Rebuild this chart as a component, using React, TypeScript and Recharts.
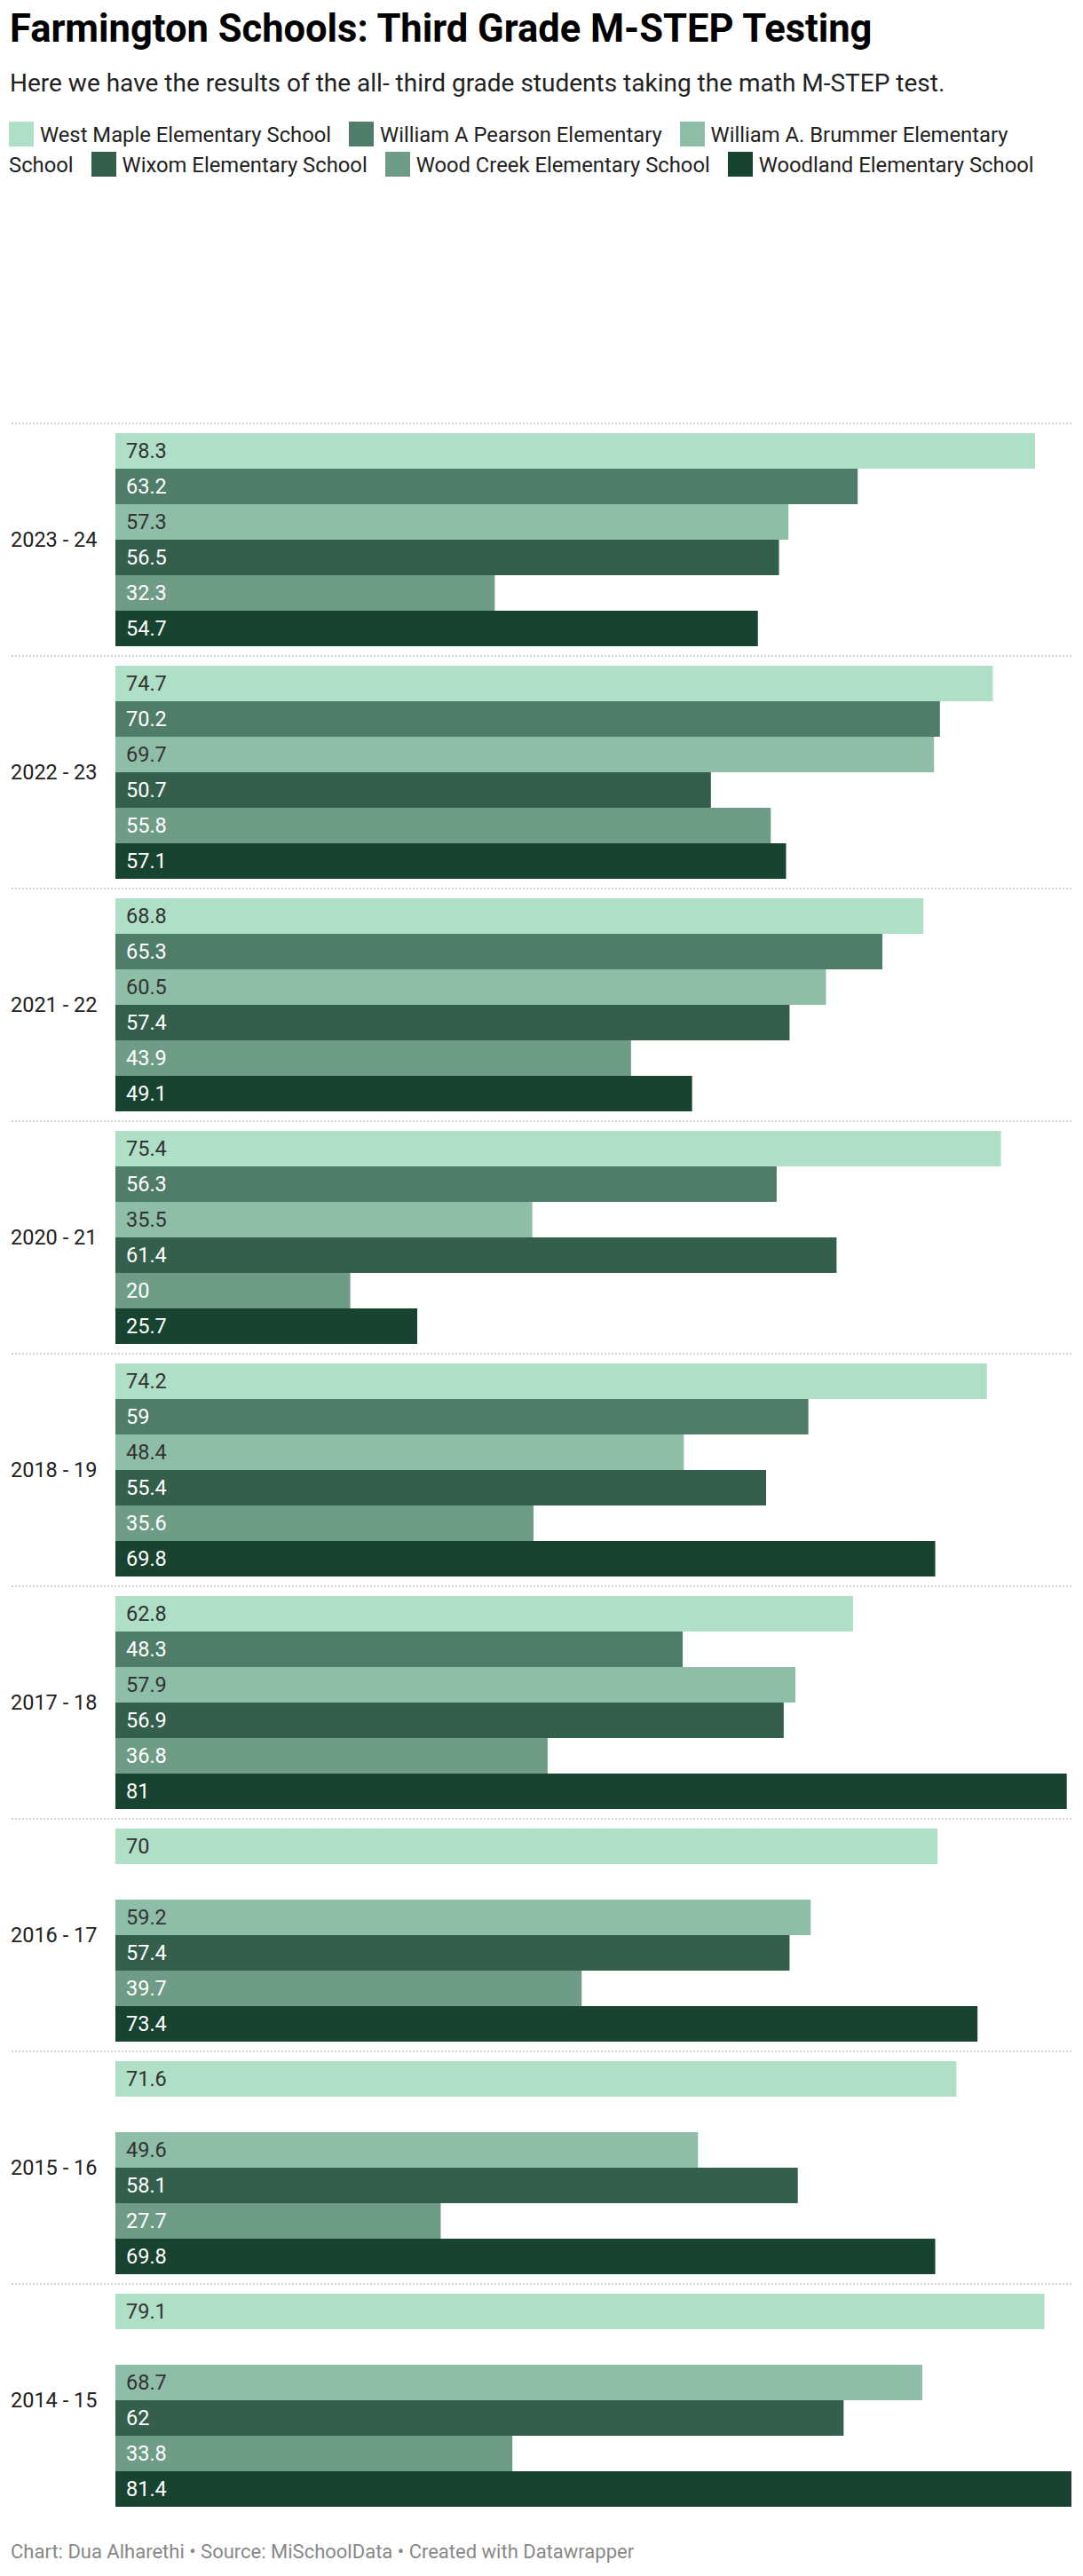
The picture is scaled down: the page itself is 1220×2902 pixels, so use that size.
import { Bar, BarChart, LabelList, XAxis, YAxis } from "recharts";

const FONT = "Roboto, 'Noto Sans', sans-serif";

const years = [
  "2023 - 24",
  "2022 - 23",
  "2021 - 22",
  "2020 - 21",
  "2018 - 19",
  "2017 - 18",
  "2016 - 17",
  "2015 - 16",
  "2014 - 15",
];

const schools = [
  "West Maple Elementary School",
  "William A Pearson Elementary",
  "William A. Brummer Elementary School",
  "Wixom Elementary School",
  "Wood Creek Elementary School",
  "Woodland Elementary School",
];

const westMaple = [78.3, 74.7, 68.8, 75.4, 74.2, 62.8, 70, 71.6, 79.1];
const pearson = [63.2, 70.2, 65.3, 56.3, 59, 48.3, null, null, null];
const brummer = [57.3, 69.7, 60.5, 35.5, 48.4, 57.9, 59.2, 49.6, 68.7];
const wixom = [56.5, 50.7, 57.4, 61.4, 55.4, 56.9, 57.4, 58.1, 62];
const woodCreek = [32.3, 55.8, 43.9, 20, 35.6, 36.8, 39.7, 27.7, 33.8];
const woodland = [54.7, 57.1, 49.1, 25.7, 69.8, 81, 73.4, 69.8, 81.4];

const seriesValues = [westMaple, pearson, brummer, wixom, woodCreek, woodland];
const colors = ["#afdfc7", "#4f7d69", "#8ebea7", "#345f4c", "#6f9c87", "#174330"];
const labelColors = ["#333333", "#ffffff", "#333333", "#ffffff", "#ffffff", "#ffffff"];

const data = years.map((year, i) => {
  const row: Record<string, string | number | null> = { year };
  seriesValues.forEach((vals, s) => {
    row[`s${s}`] = vals[i];
  });
  return row;
});

const CHART_TOP = 467;
const MARGIN_TOP = 10;
const BAND = 262;
const PLOT_HEIGHT = BAND * years.length;

// year label + dotted separator on top of each group
function YearTick(props: any) {
  const { y, payload } = props;
  return (
    <g>
      <line
        x1={13}
        x2={1208}
        y1={y - BAND / 2}
        y2={y - BAND / 2}
        stroke="#d2d2d2"
        strokeWidth={2}
        strokeDasharray="2 2"
      />
      <text
        x={12}
        y={y}
        dy="0.35em"
        textAnchor="start"
        fill="#222"
        fontSize={23.5}
        fontFamily={FONT}
      >
        {payload.value}
      </text>
    </g>
  );
}

export default function App() {
  return (
    <div
      style={{
        position: "absolute",
        left: 0,
        top: 0,
        width: 1220,
        height: 2902,
        background: "#fff",
        fontFamily: FONT,
        color: "#222",
      }}
    >
      <div
        style={{
          position: "absolute",
          left: 11,
          top: 11,
          fontSize: 43.5,
          lineHeight: 1,
          fontWeight: 700,
          color: "#000",
          whiteSpace: "nowrap",
        }}
      >
        Farmington Schools: Third Grade M-STEP Testing
      </div>
      <div
        style={{
          position: "absolute",
          left: 11,
          top: 80,
          fontSize: 28,
          lineHeight: 1,
          color: "#222",
          whiteSpace: "nowrap",
        }}
      >
        Here we have the results of the all- third grade students taking the math M-STEP test.
      </div>
      <div
        style={{
          position: "absolute",
          left: 10,
          top: 135,
          width: 1200,
          fontSize: 23.8,
          lineHeight: "34px",
          color: "#222",
        }}
      >
        {schools.map((name, i) => {
          const words = name.split(" ");
          return (
            <span key={name}>
              <span
                style={{
                  display: "inline-block",
                  width: 28,
                  height: 28,
                  background: colors[i],
                  verticalAlign: "-5px",
                  marginRight: 7,
                }}
              />
              {words.map((w, k) => (
                <span key={k} style={{ marginRight: k === words.length - 1 ? 14 : 0 }}>
                  {w}
                  {k < words.length - 1 ? " " : ""}
                </span>
              ))}{" "}
            </span>
          );
        })}
      </div>

      <div style={{ position: "absolute", left: 0, top: CHART_TOP }}>
        <BarChart
          width={1220}
          height={PLOT_HEIGHT + MARGIN_TOP}
          data={data}
          layout="vertical"
          margin={{ top: MARGIN_TOP, right: 13, bottom: 0, left: 0 }}
          barGap={0}
          barCategoryGap={11}
        >
          <XAxis type="number" domain={[0, "dataMax"]} hide />
          <YAxis
            type="category"
            dataKey="year"
            width={130}
            axisLine={false}
            tickLine={false}
            tick={<YearTick />}
            interval={0}
          />
          {schools.map((name, s) => (
            <Bar
              key={name}
              dataKey={`s${s}`}
              name={name}
              fill={colors[s]}
              barSize={40}
              isAnimationActive={false}
            >
              <LabelList
                dataKey={`s${s}`}
                position="insideLeft"
                offset={12}
                fill={labelColors[s]}
                fontSize={23.5}
                fontFamily={FONT}
                formatter={(v: any) => (v == null ? "" : v)}
              />
            </Bar>
          ))}
        </BarChart>
      </div>

      <div
        style={{
          position: "absolute",
          left: 12,
          top: 2864,
          fontSize: 22,
          lineHeight: 1,
          color: "#888",
          whiteSpace: "nowrap",
        }}
      >
        Chart: Dua Alharethi • Source: MiSchoolData • Created with Datawrapper
      </div>
    </div>
  );
}
